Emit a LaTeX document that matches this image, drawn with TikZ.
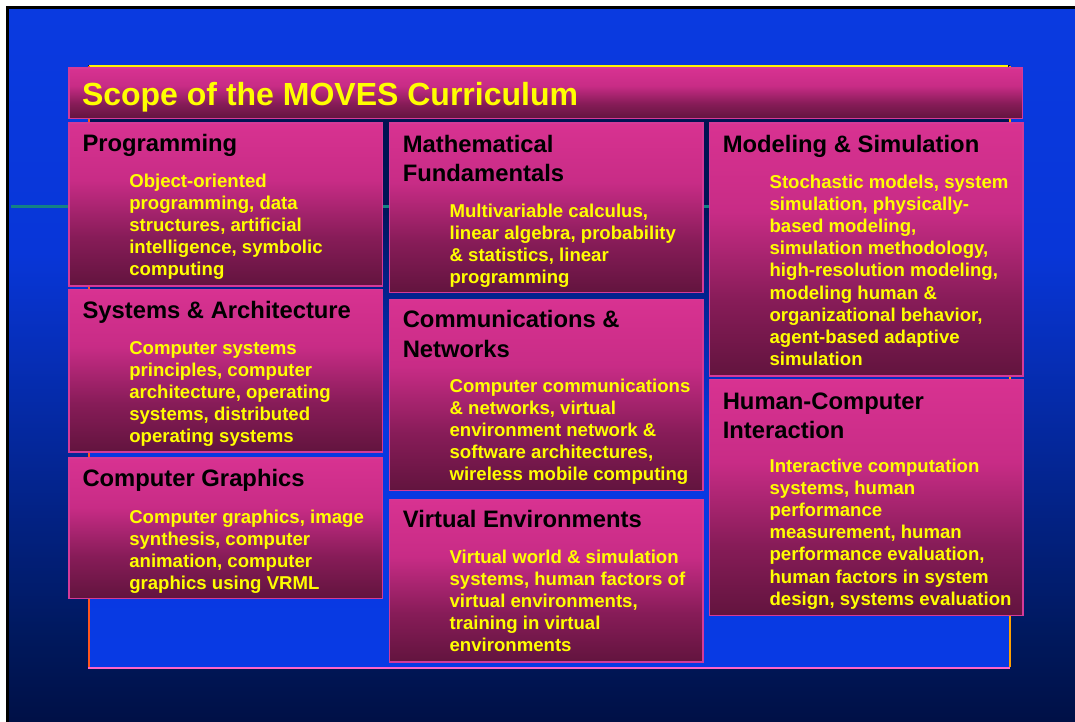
\documentclass[tikz,border=0pt]{standalone}
\usepackage{fontspec}
\setmainfont{Liberation Sans}
\definecolor{bgnavy}{RGB}{0,16,70}
\definecolor{bgdark}{RGB}{0,24,92}
\definecolor{bgblue}{RGB}{10,58,224}
\definecolor{bgblueb}{RGB}{8,54,216}
\definecolor{ibtop}{RGB}{0,18,80}
\definecolor{ibdark}{RGB}{0,20,85}
\definecolor{ibblue}{RGB}{8,56,224}
\definecolor{ibbot}{RGB}{8,58,228}
\definecolor{boxtop}{RGB}{216,50,145}
\definecolor{boxup}{RGB}{200,44,134}
\definecolor{boxlow}{RGB}{135,28,88}
\definecolor{boxbot}{RGB}{98,20,62}
\definecolor{boxedge}{RGB}{212,58,152}
\definecolor{txtyellow}{RGB}{255,255,0}
\definecolor{lineteal}{RGB}{20,130,132}
\definecolor{edgeyellow}{RGB}{255,245,0}
\definecolor{edgeleft}{RGB}{255,85,30}
\definecolor{edgeright}{RGB}{255,160,0}
\definecolor{edgebottom}{RGB}{255,100,200}
\pgfdeclareverticalshading{outerbg}{100bp}{color(0bp)=(bgnavy); color(25bp)=(bgnavy); color(30.7bp)=(bgdark); color(57.9bp)=(bgblueb); color(75bp)=(bgblue); color(100bp)=(bgblue)}
\pgfdeclareverticalshading{innerbg}{100bp}{color(0bp)=(ibbot); color(25bp)=(ibbot); color(44.7bp)=(ibblue); color(63.8bp)=(ibdark); color(75bp)=(ibtop); color(100bp)=(ibtop)}
\pgfdeclareverticalshading{boxshade}{100bp}{color(0bp)=(boxbot); color(25bp)=(boxbot); color(40bp)=(boxlow); color(57.5bp)=(boxup); color(75bp)=(boxtop); color(100bp)=(boxtop)}
\newcommand\bodyfnt{\fontsize{18.6}{22.2}\selectfont\bfseries}
\newcommand\headfnt{\fontsize{23.8}{29.5}\selectfont\bfseries}
\newcommand\titlefnt{\fontsize{32}{38}\selectfont\bfseries}
\tikzset{
  card/.style={draw=boxedge, line width=1.5pt, shading=boxshade, anchor=north west, outer sep=0pt, inner sep=0pt, minimum width=313.5pt},
  headtxt/.style={anchor=north west, inner sep=0pt, outer sep=0pt, align=left, font=\headfnt, text=black},
  bodytxt/.style={anchor=north west, inner sep=0pt, outer sep=0pt, align=left, font=\bodyfnt, text=txtyellow},
  titletxt/.style={anchor=base west, inner sep=0pt, outer sep=0pt, font=\titlefnt, text=txtyellow}
}
\begin{document}
\begin{tikzpicture}[x=1pt,y=-1pt]
\useasboundingbox (0,0) rectangle (1075,721);
\fill[white] (0,0) rectangle (1075,721);
\begin{scope}
\clip (0,0) rectangle (1075,721);
\fill[black] (6,6) rectangle (1080,726);
\shade[shading=outerbg] (9,9) rectangle (1080,722);
\end{scope}
% inner panel
\shade[shading=innerbg] (88,65) rectangle (1010,667);
\draw[edgeyellow, line width=2pt] (89,66) -- (1008,66);
\draw[edgeleft, line width=2pt] (89,66) -- (89,667);
\draw[edgeright, line width=2pt] (1010,66) -- (1010,667);
\draw[edgebottom, line width=2pt] (88,667.5) -- (1010,667.5);
\draw[lineteal, line width=2.7pt] (11,206.3) -- (1010,206.3);
% title bar
\node[card, minimum width=953.7pt, minimum height=50.7pt] (titlebar) at (69,68) {};
\node[titletxt] (titletext) at (82,105.5) {Scope of the MOVES Curriculum};
% column 1
\node[card, minimum height=163pt] (prog) at (69,123) {};
\node[card, minimum height=162.5pt] (sys) at (69,289.5) {};
\node[card, minimum height=140.3pt] (gfx) at (69,458) {};
% column 2
\node[card, minimum height=169.7pt] (math) at (389.3,123) {};
\node[card, minimum height=191.4pt] (comm) at (389.3,299.3) {};
\node[card, minimum height=162.7pt] (ve) at (389.3,499.3) {};
% column 3
\node[card, minimum height=253pt] (msim) at (709.3,123) {};
\node[card, minimum height=236.4pt] (hci) at (709.3,379.3) {};
% texts column 1
\node[headtxt] (prog-h) at (82.5,131.15) {\strut Programming};
\node[bodytxt] (prog-b) at (129.3,171.46) {\strut Object-oriented\\programming, data\\structures, artificial\\intelligence, symbolic\\computing};
\node[headtxt] (sys-h) at (82.5,297.65) {\strut Systems \& Architecture};
\node[bodytxt] (sys-b) at (129.3,338.46) {\strut Computer systems\\principles, computer\\architecture, operating\\systems, distributed\\operating systems};
\node[headtxt] (gfx-h) at (82.5,465.85) {\strut Computer Graphics};
\node[bodytxt] (gfx-b) at (129.3,507.46) {\strut Computer graphics, image\\synthesis, computer\\animation, computer\\graphics using VRML};
% texts column 2
\node[headtxt] (math-h) at (402.8,131.35) {\strut Mathematical\\Fundamentals};
\node[bodytxt] (math-b) at (449.6,201.46) {\strut Multivariable calculus,\\linear algebra, probability\\\& statistics, linear\\programming};
\node[headtxt] (comm-h) at (402.8,306.85) {\strut Communications \&\\Networks};
\node[bodytxt] (comm-b) at (449.6,376.46) {\strut Computer communications\\\& networks, virtual\\environment network \&\\software architectures,\\wireless mobile computing};
\node[headtxt] (ve-h) at (402.8,506.85) {\strut Virtual Environments};
\node[bodytxt] (ve-b) at (449.6,547.46) {\strut Virtual world \& simulation\\systems, human factors of\\virtual environments,\\training in virtual\\environments};
% texts column 3
\node[headtxt] (msim-h) at (722.8,131.35) {\strut Modeling \& Simulation};
\node[bodytxt] (msim-b) at (769.6,172.46) {\strut Stochastic models, system\\simulation, physically-\\based modeling,\\simulation methodology,\\high-resolution modeling,\\modeling human \&\\organizational behavior,\\agent-based adaptive\\simulation};
\node[headtxt] (hci-h) at (722.8,388.35) {\strut Human-Computer\\Interaction};
\node[bodytxt] (hci-b) at (769.6,456.46) {\strut Interactive computation\\systems, human\\performance\\measurement, human\\performance evaluation,\\human factors in system\\design, systems evaluation};
\end{tikzpicture}
\end{document}
